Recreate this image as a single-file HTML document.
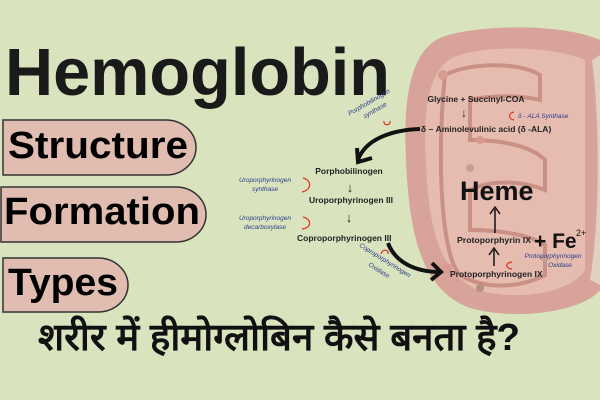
<!DOCTYPE html>
<html><head><meta charset="utf-8"><style>
html,body{margin:0;padding:0;background:#d9e4be;}
svg{display:block}
</style></head><body>
<svg width="600" height="400" viewBox="0 0 600 400" xmlns="http://www.w3.org/2000/svg" font-family="'Liberation Sans', sans-serif">
<rect width="600" height="400" fill="#d9e4be"/>
<!-- mitochondrion -->
<path d="M600 40 C560 22 470 25 440 38 C410 52 403 100 406 160 C409 230 420 290 470 308 C520 322 585 310 600 290 Z" fill="#d7a39b"/>
<path d="M592 60 C600 120 600 220 590 280 L600 285 L600 55 Z" fill="#e3e6d0" opacity="0.7"/>
<path d="M585 60 C550 45 480 45 452 58 C428 72 423 110 426 165 C429 225 438 272 478 290 C520 302 572 292 585 270 Z" fill="#e6bcb1"/>
<path d="M445 75 C470 62 520 62 540 75 L540 100 C520 95 490 95 470 100 L470 140 C500 140 530 145 545 160 L545 190 C520 180 490 180 470 190 L470 230 C500 230 530 235 545 245 L545 275 C520 288 485 290 460 275 C440 255 437 150 445 75 Z" fill="none" stroke="#c99186" stroke-width="4"/>
<circle cx="443" cy="75" r="5" fill="#d99a92"/><circle cx="470" cy="168" r="4" fill="#c9a090"/>
<circle cx="447" cy="268" r="5" fill="#d99a92"/><circle cx="480" cy="288" r="4" fill="#b89080"/>
<circle cx="545" cy="258" r="4" fill="#c9a090"/><circle cx="480" cy="140" r="4" fill="#d99a92"/>
<!-- title -->
<text x="5" y="95" font-size="67" font-weight="bold" fill="#1a1a1a" textLength="385" lengthAdjust="spacingAndGlyphs">Hemoglobin</text>
<!-- pills -->
<path d="M3 120 H166 A30 27.5 0 0 1 166 175 H3 Z" fill="#e1bcb0" stroke="#333" stroke-width="1.5"/>
<path d="M1 187 H176 A30 27.5 0 0 1 176 242 H1 Z" fill="#e1bcb0" stroke="#333" stroke-width="1.5"/>
<path d="M3 258 H98 A30 27 0 0 1 98 312 H3 Z" fill="#e1bcb0" stroke="#333" stroke-width="1.5"/>
<text x="8" y="158" font-size="38" font-weight="bold" fill="#000" textLength="180" lengthAdjust="spacingAndGlyphs">Structure</text>
<text x="4" y="224" font-size="38" font-weight="bold" fill="#000" textLength="196" lengthAdjust="spacingAndGlyphs">Formation</text>
<text x="8" y="295" font-size="38" font-weight="bold" fill="#000" textLength="110" lengthAdjust="spacingAndGlyphs">Types</text>
<!-- hindi -->
<text x="38" y="350" font-size="38" font-weight="bold" fill="#111" textLength="482" lengthAdjust="spacingAndGlyphs" font-family="'Liberation Sans','Noto Sans CJK SC',sans-serif">शरीर में हीमोग्लोबिन कैसे बनता है?</text>
<!-- pathway -->
<g font-size="8.5" font-weight="bold" fill="#222">
<text x="476" y="102" text-anchor="middle">Glycine  +  Succinyl-COA</text>
<text x="464" y="117" text-anchor="middle" font-size="12" font-weight="normal">↓</text>
<text x="421" y="132">δ – Aminolevulinic acid (δ -ALA)</text>
<text x="349" y="174" text-anchor="middle">Porphobilinogen</text>
<text x="350" y="192" text-anchor="middle" font-size="13" font-weight="normal">↓</text>
<text x="351" y="203" text-anchor="middle">Uroporphyrinogen III</text>
<text x="349" y="222" text-anchor="middle" font-size="13" font-weight="normal">↓</text>
<text x="297" y="241">Coproporphyrinogen III</text>
<text x="457" y="243" textLength="74" lengthAdjust="spacingAndGlyphs">Protoporphyrin IX</text>
<text x="450" y="277">Protoporphyrinogen IX</text>
</g>
<text x="460" y="200" font-size="27" font-weight="bold" fill="#111">Heme</text>
<text x="534" y="248" font-size="21" font-weight="bold" fill="#111">+ Fe</text>
<text x="576" y="236" font-size="9" fill="#111">2+</text>
<line x1="495" y1="233" x2="495" y2="209" stroke="#111" stroke-width="1.5"/><path d="M490 214 L495 207 L500 214" fill="none" stroke="#111" stroke-width="1.5"/>
<line x1="494" y1="266" x2="494" y2="250" stroke="#111" stroke-width="1.5"/><path d="M489 255 L494 248 L499 255" fill="none" stroke="#111" stroke-width="1.5"/>
<!-- big arrows -->
<path d="M420 129 C390 130 365 140 358 160" fill="none" stroke="#111" stroke-width="4"/>
<path d="M357 148 L358 162 L372 158" fill="none" stroke="#111" stroke-width="4"/>
<path d="M388 243 C395 262 415 272 440 272" fill="none" stroke="#111" stroke-width="4"/>
<path d="M432 263 L441 272 L431 280" fill="none" stroke="#111" stroke-width="4"/>
<!-- enzyme labels -->
<g font-size="6.5" fill="#2a3a8a" font-style="italic">
<text x="265" y="182" text-anchor="middle">Uroporphyrinogen</text>
<text x="265" y="191" text-anchor="middle">synthase</text>
<text x="265" y="220" text-anchor="middle">Uroporphyrinogen</text>
<text x="265" y="229" text-anchor="middle">decarboxylase</text>
<text x="518" y="118">δ - ALA Synthase</text>
<text x="553" y="258" text-anchor="middle">Protoporphyrinogen</text>
<text x="560" y="267" text-anchor="middle">Oxidase</text>
<text text-anchor="middle" transform="translate(370,104) rotate(-30)">Porphobilinogen</text>
<text text-anchor="middle" transform="translate(376,112) rotate(-30)">synthase</text>
<text text-anchor="middle" transform="translate(384,262) rotate(32)">Coproporphyrinogen</text>
<text text-anchor="middle" transform="translate(378,272) rotate(32)">Oxidase</text>
</g>
<g fill="none" stroke="#e03020" stroke-width="1.2">
<path d="M303 178 C312 180 312 190 302 192"/>
<path d="M303 217 C312 219 312 228 302 229"/>
<path d="M514 112 C508 113 508 119 514 120"/>
<path d="M512 262 C505 263 505 268 512 269"/>
<path d="M384 121 C383 126 391 126 390 121"/>
<path d="M381 254 C382 249 389 249 388 254"/>
</g>
</svg>
</body></html>
